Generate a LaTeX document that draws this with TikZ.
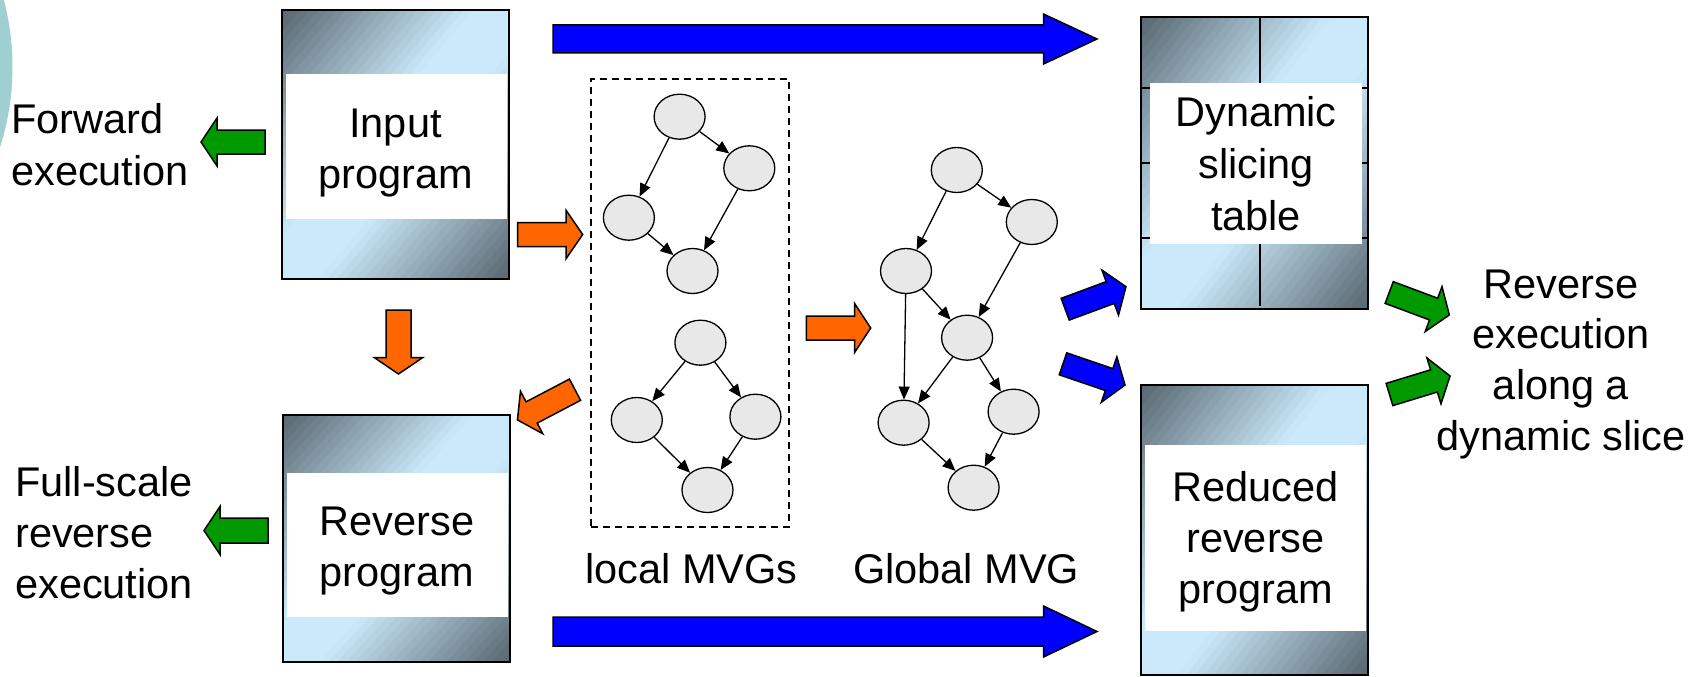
\documentclass[tikz,border=0pt]{standalone}
\usepackage{fontspec}
\setmainfont{Liberation Sans}
\usetikzlibrary{shapes.geometric,arrows.meta}

\definecolor{gdark}{HTML}{5C6B76}
\definecolor{glight}{HTML}{CAE9FA}
\definecolor{nodegray}{HTML}{E8E8E8}
\definecolor{arrblue}{HTML}{0000FF}
\definecolor{arrgreen}{HTML}{009900}
\definecolor{arrorange}{HTML}{FF6600}
\definecolor{decoteal}{HTML}{9FCFD0}

% diagonal metallic panel: dark top-left and bottom-right corners, light middle
% arguments: left x, top y, width, height (y grows downward)
\newcommand{\gradpanel}[4]{%
  \begin{scope}
    \clip (#1,#2) rectangle ({#1+#3},{#2+#4});
    \begin{scope}[shift={(#1,#2)}, x={(#3pt,0pt)}, y={(0pt,-#4pt)}]
      \foreach \i in {0,...,49}{
        \pgfmathsetmacro\gA{\i/25}
        \pgfmathsetmacro\gB{(\i+1.2)/25}
        \pgfmathsetmacro\gM{(\i+0.5)/50}
        \pgfmathsetmacro\gD{min(\gM,1-\gM)}
        \pgfmathsetmacro\gL{max(0,min(1,(\gD-0.02)/0.4))}
        \pgfmathsetmacro\gW{100*(1-\gL)}
        \fill[gdark!\gW!glight] (\gA+1,-1) -- (\gB+1,-1) -- (\gB-2,2) -- (\gA-2,2) -- cycle;
      }
    \end{scope}
  \end{scope}}

% block arrow: style, tail centre, angle, length, shaft half width, head half width, head length
\newcommand{\blockarr}[7]{%
  \draw[#1, shift={(#2)}, rotate=#3]
    (0,-#5) -- ({#4-#7},-#5) -- ({#4-#7},-#6) -- (#4,0) -- ({#4-#7},#6) -- ({#4-#7},#5) -- (0,#5) -- cycle;}

\begin{document}
\begin{tikzpicture}[x=1pt, y=-1pt,
  framebox/.style={rectangle, draw=black, line width=2pt, inner sep=0pt},
  whitebox/.style={rectangle, fill=white, inner sep=0pt},
  lbl/.style={font=\fontsize{41.5}{51}\selectfont, inner sep=0pt, align=center},
  gnode/.style={ellipse, draw=black, line width=1.3pt, fill=nodegray, minimum width=51pt, minimum height=45pt, inner sep=0pt},
  gedge/.style={line width=1.3pt, -{Triangle[length=13pt,width=11pt]}},
  blk/.style={draw=black, line width=1.5pt, line join=miter},
  tabline/.style={draw=black, line width=1.5pt}]

\fill[white] (0,0) rectangle (1705,677);
\useasboundingbox (0,0) rectangle (1705,677);

% decorative disc at the left edge
\begin{scope}
  \clip (0,0) rectangle (1705,677);
  \fill[decoteal] (-249.75,67) circle[radius=262.25];
\end{scope}

% input program (text nodes are placed by the baseline of their last line)
\gradpanel{282}{10.5}{227}{268.5}
\node[whitebox, minimum width=221pt, minimum height=145pt] (inwhite) at (396.5,146.5) {};
\node[framebox, minimum width=227pt, minimum height=268.5pt] (inbox) at (395.5,144.75) {};
\node[lbl, anchor=base] (intext) at (395.5,188) {Input\\program};

% reverse program
\gradpanel{282.8}{415}{227}{247}
\node[whitebox, minimum width=221pt, minimum height=144pt] (revwhite) at (397.5,545) {};
\node[framebox, minimum width=227pt, minimum height=247pt] (revbox) at (396.3,538.5) {};
\node[lbl, anchor=base] (revtext) at (397,586.7) {Reverse\\program};

% dynamic slicing table
\gradpanel{1141}{16.85}{227}{292}
\draw[tabline] (1260,17) -- (1260,306);
\draw[tabline] (1141,88) -- (1368,88);
\draw[tabline] (1141,163) -- (1368,163);
\draw[tabline] (1141,238) -- (1368,238);
\node[whitebox, minimum width=212pt, minimum height=161pt] (dynwhite) at (1256,163.5) {};
\node[framebox, minimum width=227pt, minimum height=292pt] (dynbox) at (1254.5,162.85) {};
\node[lbl, anchor=base, font=\fontsize{41.5}{51.6}\selectfont] (dyntext) at (1256,230) {Dynamic\\slicing\\table};

% reduced reverse program
\gradpanel{1141}{384.75}{227}{290}
\node[whitebox, minimum width=221pt, minimum height=186pt] (redwhite) at (1255.5,538) {};
\node[framebox, minimum width=227pt, minimum height=290pt] (redbox) at (1254.5,529.75) {};
\node[lbl, anchor=base, font=\fontsize{41.5}{50.8}\selectfont] (redtext) at (1255.5,603.3) {Reduced\\reverse\\program};

% side labels
\node[lbl, anchor=base west, align=left, font=\fontsize{41.5}{52}\selectfont] (fwdlbl) at (11,185) {Forward\\execution};
\node[lbl, anchor=base west, align=left] (fulllbl) at (15,598) {Full-scale\\reverse\\execution};
\node[lbl, anchor=base, font=\fontsize{41.5}{50.6}\selectfont] (slicelbl) at (1561,450) {Reverse\\execution\\along a\\dynamic slice};
\node[lbl, anchor=base west] (loclbl) at (585,583.3) {local MVGs};
\node[lbl, anchor=base west] (glolbl) at (853,583.3) {Global MVG};

% local MVGs
\node[draw=black, dashed, dash pattern=on 7pt off 5pt, line width=1.4pt, minimum width=198pt, minimum height=448pt, inner sep=0pt] (localbox) at (690,303) {};
\node[gnode] (n1) at (679.6,116.7) {};
\node[gnode] (n2) at (749.3,168.3) {};
\node[gnode] (n3) at (628.9,217.7) {};
\node[gnode] (n4) at (692.5,271) {};
\draw[gedge] (n1) -- (n2);
\draw[gedge] (n1) -- (n3);
\draw[gedge] (n3) -- (n4);
\draw[gedge] (n2) -- (n4);

\node[gnode] (m1) at (700.4,342.7) {};
\node[gnode] (m2) at (636.8,420) {};
\node[gnode] (m3) at (755.4,416.7) {};
\node[gnode] (m4) at (707.5,490) {};
\draw[gedge] (m1) -- (m2);
\draw[gedge] (m1) -- (m3);
\draw[gedge] (m2) -- (m4);
\draw[gedge] (m3) -- (m4);

% global MVG
\node[gnode] (g1) at (956.8,170) {};
\node[gnode] (g2) at (1031.8,222) {};
\node[gnode] (g3) at (906,271) {};
\node[gnode] (g4) at (967.1,337.7) {};
\node[gnode] (g5) at (903.6,422.7) {};
\node[gnode] (g6) at (1013.6,411.7) {};
\node[gnode] (g7) at (973.6,487.7) {};
\draw[gedge] (g1) -- (g2);
\draw[gedge] (g1) -- (g3);
\draw[gedge] (g2) -- (g4);
\draw[gedge] (g3) -- (g4);
\draw[gedge] (g3) -- (g5);
\draw[gedge] (g4) -- (g5);
\draw[gedge] (g4) -- (g6);
\draw[gedge] (g5) -- (g7);
\draw[gedge] (g6) -- (g7);

% block arrows
\blockarr{blk, fill=arrblue}{553,39}{0}{544}{14}{25}{53.5}
\blockarr{blk, fill=arrblue}{553,631.5}{0}{544}{14.5}{25.5}{53.5}
\blockarr{blk, fill=arrgreen}{265,142}{180}{64}{12}{24}{16}
\blockarr{blk, fill=arrgreen}{268,530.5}{180}{64}{12.5}{24}{16}
\blockarr{blk, fill=arrorange}{517.7,234.5}{0}{65}{12}{24.3}{16.7}
\blockarr{blk, fill=arrorange}{398.5,310}{-90}{64}{12.5}{24}{16.3}
\blockarr{blk, fill=arrorange}{575,389.7}{207.7}{65}{12}{24}{16}
\blockarr{blk, fill=arrorange}{806.4,328}{0}{64.3}{12}{24.3}{16}
\blockarr{blk, fill=arrblue}{1065.2,309.2}{20.3}{64.8}{11.6}{24}{16.8}
\blockarr{blk, fill=arrblue}{1063,363.8}{-18.9}{65.5}{11.6}{24}{16.8}
\blockarr{blk, fill=arrgreen}{1389.2,292.5}{-20.5}{64.2}{11.6}{24}{16.8}
\blockarr{blk, fill=arrgreen}{1389.5,394.5}{17}{63.3}{11.6}{24}{16.8}

\end{tikzpicture}
\end{document}
